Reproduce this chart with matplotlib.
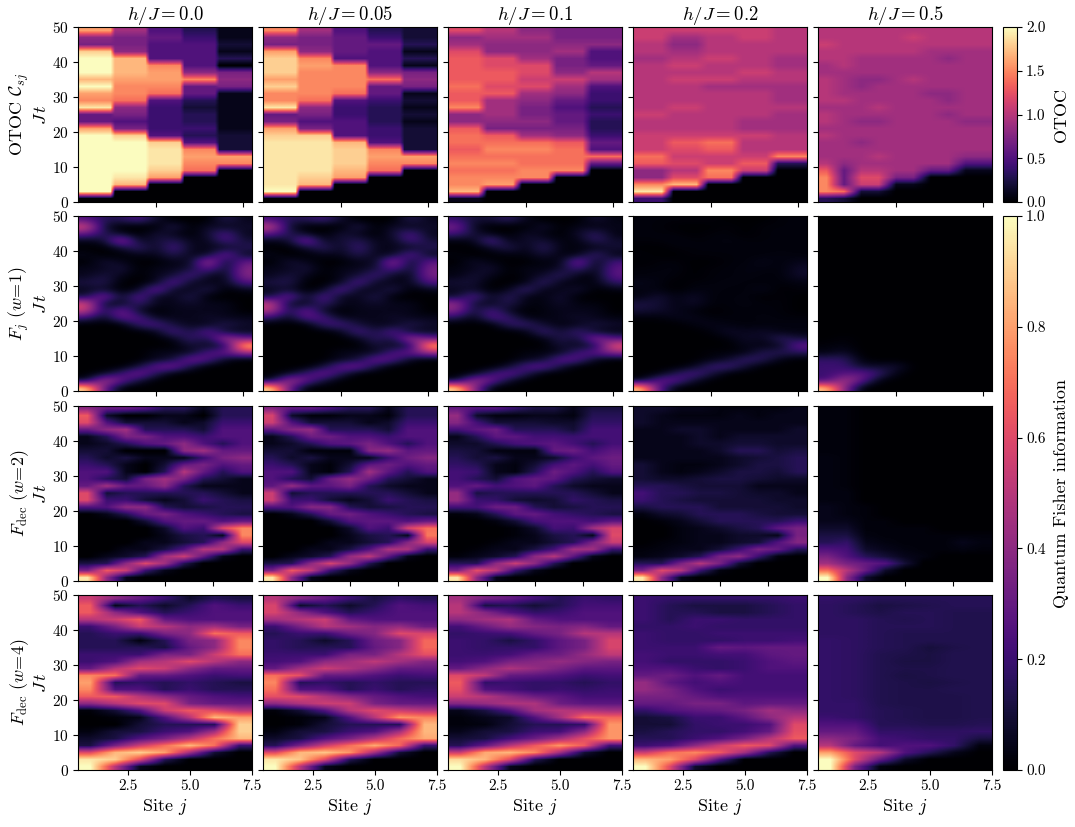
"""OTOC and quantum Fisher information light cones vs field strength."""
import matplotlib

matplotlib.use("Agg")
import matplotlib.pyplot as plt
import numpy as np

plt.rcParams["font.family"] = "cmr10"
plt.rcParams["mathtext.fontset"] = "cm"
plt.rcParams["axes.formatter.use_mathtext"] = True

fields = ["0.0", "0.05", "0.1", "0.2", "0.5"]
row_labels = [
    "OTOC $\\mathcal{C}_{sj}$\n$J\\,t$",
    "$F_j\\ (w\\!=\\!1)$\n$J\\,t$",
    "$F_{\\mathrm{dec}}\\ (w\\!=\\!2)$\n$J\\,t$",
    "$F_{\\mathrm{dec}}\\ (w\\!=\\!4)$\n$J\\,t$",
]

# OTOC in tenths, one list per block of two sites, Jt = 1, 3, ... 49
otoc_00 = [
    [0, 20, 20, 20, 20, 20, 20, 20, 20, 20, 16, 6, 6, 19, 15, 16, 20, 17, 20, 20, 20, 18, 7, 8, 16],
    [0, 0, 17, 19, 20, 20, 20, 20, 20, 18, 7, 5, 7, 8, 14, 15, 15, 16, 17, 17, 17, 8, 7, 7, 9],
    [0, 0, 0, 16, 18, 19, 19, 19, 18, 5, 4, 4, 4, 4, 5, 14, 15, 16, 16, 15, 5, 5, 5, 6, 5],
    [0, 0, 0, 0, 14, 15, 16, 15, 5, 3, 4, 3, 3, 2, 3, 6, 6, 15, 8, 5, 5, 5, 5, 4, 3],
    [0, 0, 0, 0, 0, 15, 16, 2, 2, 2, 1, 1, 1, 1, 1, 1, 7, 8, 7, 0, 3, 1, 2, 1, 1],
]
otoc_05 = [
    [0, 20, 19, 19, 19, 19, 19, 19, 19, 18, 16, 7, 6, 19, 15, 15, 18, 16, 18, 18, 18, 16, 7, 8, 15],
    [0, 0, 17, 18, 19, 19, 19, 19, 19, 18, 7, 5, 7, 8, 14, 15, 15, 15, 15, 16, 15, 8, 7, 7, 9],
    [0, 0, 0, 16, 17, 18, 18, 18, 17, 5, 5, 5, 4, 4, 5, 14, 15, 15, 15, 15, 5, 6, 6, 6, 5],
    [0, 0, 0, 0, 14, 15, 16, 15, 5, 4, 4, 3, 3, 3, 4, 6, 6, 14, 8, 5, 5, 5, 6, 4, 3],
    [0, 0, 0, 0, 0, 15, 16, 2, 2, 2, 2, 1, 2, 1, 2, 1, 7, 8, 7, 1, 3, 1, 3, 2, 2],
]
otoc_10 = [
    [1, 17, 15, 15, 14, 15, 14, 13, 14, 14, 13, 8, 8, 15, 13, 13, 14, 13, 13, 13, 13, 12, 9, 8, 12],
    [0, 0, 16, 15, 14, 15, 14, 15, 14, 13, 7, 8, 9, 9, 9, 13, 12, 13, 13, 12, 12, 8, 8, 9, 10],
    [0, 0, 0, 15, 15, 14, 14, 15, 14, 9, 7, 8, 7, 7, 8, 9, 12, 11, 12, 12, 9, 8, 8, 9, 8],
    [0, 0, 0, 0, 15, 14, 14, 14, 13, 8, 7, 6, 6, 5, 6, 8, 9, 11, 8, 7, 7, 9, 8, 7, 7],
    [0, 0, 0, 0, 0, 6, 14, 5, 6, 4, 3, 3, 4, 3, 4, 4, 5, 9, 10, 6, 5, 5, 8, 7, 7],
]
otoc_20 = [
    [4, 19, 15, 8, 8, 13, 14, 11, 11, 11, 10, 10, 11, 10, 10, 10, 10, 10, 10, 10, 9, 10, 10, 11, 11],
    [0, 0, 17, 12, 10, 12, 11, 12, 13, 11, 10, 10, 10, 11, 10, 10, 10, 11, 10, 11, 10, 9, 8, 9, 11],
    [0, 0, 0, 14, 15, 11, 11, 13, 14, 11, 10, 10, 10, 10, 10, 10, 9, 11, 10, 10, 11, 10, 10, 10, 11],
    [0, 0, 0, 0, 11, 13, 11, 10, 10, 11, 9, 9, 10, 10, 10, 10, 9, 10, 11, 10, 10, 10, 10, 11, 11],
    [0, 0, 0, 0, 0, 3, 15, 10, 10, 10, 9, 9, 9, 10, 9, 9, 9, 10, 10, 9, 9, 10, 10, 10, 10],
]
# h/J = 0.5 varies inside the first block, so it keeps all ten sites (one list per Jt)
otoc_50 = [
    [3, 2, 0, 0, 0, 0, 0, 0, 0, 0],
    [15, 14, 2, 2, 0, 0, 0, 0, 0, 0],
    [15, 6, 11, 11, 1, 1, 0, 0, 0, 0],
    [15, 6, 12, 12, 7, 7, 0, 0, 0, 0],
    [13, 6, 10, 10, 9, 9, 6, 6, 1, 1],
    [10, 8, 9, 9, 9, 9, 9, 9, 5, 5],
    [9, 9, 9, 10, 9, 9, 9, 9, 8, 8],
    [9, 9, 9, 9, 9, 9, 9, 9, 9, 9],
    [9, 9, 8, 9, 9, 9, 9, 9, 9, 9],
    [10, 9, 9, 9, 9, 9, 9, 9, 9, 9],
    [9, 9, 9, 9, 9, 9, 9, 9, 9, 9],
    [10, 9, 8, 8, 9, 9, 9, 9, 8, 8],
    [10, 9, 9, 9, 9, 9, 9, 8, 9, 9],
    [9, 9, 9, 10, 9, 9, 9, 9, 9, 9],
    [10, 10, 9, 9, 9, 9, 9, 8, 9, 9],
    [10, 9, 9, 9, 9, 9, 8, 8, 9, 9],
    [10, 9, 8, 9, 9, 9, 9, 9, 9, 9],
    [10, 9, 8, 8, 9, 10, 9, 9, 9, 9],
    [9, 9, 9, 9, 9, 9, 9, 9, 9, 9],
    [9, 10, 9, 9, 9, 9, 9, 9, 9, 9],
    [10, 10, 9, 9, 9, 9, 9, 8, 9, 9],
    [10, 10, 10, 10, 10, 10, 9, 9, 9, 9],
    [11, 10, 10, 10, 10, 10, 10, 10, 10, 10],
    [10, 10, 10, 10, 10, 11, 10, 10, 10, 10],
    [10, 10, 10, 10, 10, 10, 10, 10, 10, 10],
]

# Fisher information in percent, one list per Jt = 1, 3, ... 49
fj_00 = [
    [95, 30, 0, 0, 0, 0, 0, 0, 0, 0], [5, 50, 30, 10, 0, 0, 0, 0, 0, 0],
    [0, 5, 20, 35, 15, 0, 0, 0, 0, 0], [0, 0, 0, 10, 30, 35, 10, 0, 0, 0],
    [0, 0, 0, 0, 5, 10, 35, 25, 5, 0], [0, 0, 0, 0, 5, 5, 5, 25, 30, 45],
    [0, 0, 0, 0, 0, 0, 10, 5, 10, 90], [0, 0, 0, 0, 0, 5, 20, 10, 50, 30],
    [0, 0, 0, 0, 5, 25, 10, 30, 5, 5], [0, 0, 0, 20, 25, 10, 5, 5, 15, 8],
    [20, 5, 30, 25, 5, 5, 5, 8, 5, 5], [55, 10, 35, 5, 0, 5, 5, 5, 5, 0],
    [60, 5, 5, 20, 5, 5, 8, 5, 5, 0], [10, 40, 5, 30, 5, 5, 15, 0, 0, 0],
    [5, 8, 0, 5, 35, 5, 5, 15, 0, 5], [12, 15, 0, 0, 5, 30, 5, 5, 5, 25],
    [5, 12, 5, 0, 5, 10, 25, 5, 5, 38], [5, 5, 12, 0, 5, 5, 10, 30, 5, 38],
    [0, 10, 5, 0, 0, 5, 5, 50, 5, 30], [5, 0, 0, 5, 5, 15, 5, 5, 35, 5],
    [0, 0, 10, 20, 5, 25, 5, 5, 5, 15], [5, 8, 45, 5, 10, 15, 5, 5, 25, 10],
    [30, 15, 5, 0, 10, 5, 0, 10, 25, 5], [60, 8, 0, 0, 0, 15, 0, 8, 5, 8],
    [25, 15, 15, 25, 8, 0, 0, 0, 15, 5],
]
fj_05 = [
    [95, 30, 0, 0, 0, 0, 0, 0, 0, 0], [5, 48, 30, 10, 0, 0, 0, 0, 0, 0],
    [0, 5, 20, 33, 15, 0, 0, 0, 0, 0], [0, 0, 0, 10, 30, 33, 10, 0, 0, 0],
    [0, 0, 0, 0, 5, 10, 33, 25, 5, 0], [0, 0, 0, 0, 5, 5, 5, 25, 30, 45],
    [0, 0, 0, 0, 0, 0, 10, 5, 10, 85], [0, 0, 0, 0, 0, 5, 18, 10, 48, 30],
    [0, 0, 0, 0, 5, 25, 10, 28, 5, 5], [0, 0, 0, 20, 23, 10, 5, 5, 15, 8],
    [18, 5, 28, 23, 5, 5, 5, 8, 5, 5], [50, 10, 33, 5, 0, 5, 5, 5, 5, 0],
    [55, 5, 5, 20, 5, 5, 8, 5, 5, 0], [10, 35, 5, 28, 5, 5, 15, 0, 0, 0],
    [5, 8, 0, 5, 30, 5, 5, 15, 0, 5], [12, 15, 0, 0, 5, 28, 5, 5, 5, 25],
    [5, 12, 5, 0, 5, 10, 23, 5, 5, 35], [5, 5, 12, 0, 5, 5, 10, 28, 5, 35],
    [0, 10, 5, 0, 0, 5, 5, 45, 5, 28], [5, 0, 0, 5, 5, 15, 5, 5, 30, 5],
    [0, 0, 10, 18, 5, 22, 5, 5, 5, 15], [5, 8, 38, 5, 10, 15, 5, 5, 25, 10],
    [28, 15, 5, 0, 10, 5, 0, 10, 25, 5], [55, 8, 0, 0, 0, 15, 0, 8, 5, 8],
    [22, 15, 15, 22, 8, 0, 0, 0, 15, 5],
]
fj_10 = [
    [95, 40, 0, 0, 0, 0, 0, 0, 0, 0], [5, 45, 32, 8, 0, 0, 0, 0, 0, 0],
    [0, 3, 20, 30, 15, 0, 0, 0, 0, 0], [0, 0, 0, 8, 25, 30, 10, 0, 0, 0],
    [0, 0, 0, 0, 5, 8, 30, 25, 5, 0], [0, 0, 0, 0, 3, 3, 5, 22, 28, 40],
    [0, 0, 0, 0, 0, 0, 10, 5, 10, 65], [0, 0, 0, 0, 0, 3, 15, 8, 42, 25],
    [0, 0, 0, 0, 3, 22, 8, 22, 5, 3], [0, 0, 0, 18, 20, 8, 3, 5, 12, 8],
    [15, 3, 25, 20, 3, 3, 5, 8, 5, 3], [38, 8, 25, 5, 0, 3, 5, 5, 5, 0],
    [42, 8, 5, 15, 3, 3, 8, 3, 3, 0], [8, 28, 5, 18, 3, 3, 10, 0, 0, 0],
    [5, 8, 0, 5, 22, 3, 5, 10, 0, 3], [10, 10, 0, 0, 3, 20, 3, 3, 3, 18],
    [3, 10, 5, 0, 3, 8, 18, 3, 3, 28], [3, 5, 10, 0, 5, 3, 8, 22, 3, 28],
    [0, 8, 3, 0, 0, 3, 3, 38, 3, 22], [3, 0, 0, 3, 3, 10, 3, 3, 22, 3],
    [0, 0, 8, 15, 3, 18, 3, 3, 3, 10], [3, 5, 28, 3, 8, 10, 3, 3, 18, 8],
    [22, 10, 3, 0, 8, 3, 0, 8, 18, 3], [35, 5, 0, 0, 0, 10, 0, 5, 3, 5],
    [18, 10, 10, 18, 5, 0, 0, 0, 10, 3],
]
fj_20 = [
    [90, 25, 0, 0, 0, 0, 0, 0, 0, 0], [3, 30, 28, 8, 0, 0, 0, 0, 0, 0],
    [0, 2, 15, 25, 12, 0, 0, 0, 0, 0], [0, 0, 0, 5, 20, 22, 8, 0, 0, 0],
    [0, 0, 0, 0, 3, 8, 20, 15, 3, 0], [0, 0, 0, 0, 2, 2, 3, 15, 15, 15],
    [0, 0, 0, 0, 0, 0, 5, 3, 5, 30], [0, 0, 0, 0, 0, 2, 8, 5, 18, 10],
    [0, 0, 0, 0, 2, 8, 5, 8, 3, 3], [0, 0, 0, 3, 5, 3, 2, 2, 3, 3],
    [2, 2, 5, 5, 2, 2, 2, 3, 2, 2], [10, 8, 5, 2, 0, 2, 2, 2, 2, 0],
    [12, 10, 3, 8, 2, 2, 3, 2, 2, 0], [3, 10, 3, 8, 2, 2, 3, 0, 2, 0],
    [3, 3, 0, 3, 3, 2, 2, 5, 0, 2], [5, 3, 0, 2, 2, 3, 2, 2, 2, 3],
    [2, 3, 2, 0, 2, 2, 3, 2, 2, 8], [2, 2, 3, 0, 2, 2, 3, 3, 2, 8],
    [0, 2, 2, 0, 0, 2, 2, 5, 2, 5], [2, 0, 0, 2, 2, 2, 2, 2, 3, 2],
    [0, 0, 2, 2, 2, 2, 2, 2, 2, 2], [2, 2, 3, 2, 2, 3, 2, 2, 2, 2],
    [2, 2, 2, 0, 2, 2, 0, 2, 2, 2], [2, 2, 0, 0, 0, 2, 0, 2, 2, 2],
    [2, 2, 2, 2, 2, 0, 0, 0, 2, 2],
]
fj_50 = [
    [90, 40, 0, 0, 0, 0, 0, 0, 0, 0], [20, 50, 30, 2, 0, 0, 0, 0, 0, 0],
    [20, 25, 30, 20, 3, 0, 0, 0, 0, 0], [20, 20, 8, 8, 10, 0, 0, 0, 0, 0],
    [18, 18, 2, 0, 0, 0, 0, 0, 0, 0], [3, 8, 0, 0, 0, 0, 0, 0, 0, 0],
    [2, 3, 0, 0, 0, 0, 0, 0, 0, 0], [0, 2, 0, 0, 0, 0, 0, 0, 0, 0],
    [0, 0, 0, 0, 0, 0, 0, 0, 0, 0], [0, 0, 0, 0, 0, 0, 0, 0, 0, 0],
    [0, 0, 0, 0, 0, 0, 0, 0, 0, 0], [0, 0, 0, 0, 0, 0, 0, 0, 0, 0],
    [0, 0, 0, 0, 0, 0, 0, 0, 0, 0], [0, 0, 0, 0, 0, 0, 0, 0, 0, 0],
    [0, 0, 0, 0, 0, 0, 0, 0, 0, 0], [0, 0, 0, 0, 0, 0, 0, 0, 0, 0],
    [0, 0, 0, 0, 0, 0, 0, 0, 0, 0], [0, 0, 0, 0, 0, 0, 0, 0, 0, 0],
    [0, 0, 0, 0, 0, 0, 0, 0, 0, 0], [0, 0, 0, 0, 0, 0, 0, 0, 0, 0],
    [0, 0, 0, 0, 0, 0, 0, 0, 0, 0], [0, 0, 0, 0, 0, 0, 0, 0, 0, 0],
    [0, 0, 0, 0, 0, 0, 0, 0, 0, 0], [0, 0, 0, 0, 0, 0, 0, 0, 0, 0],
    [0, 0, 0, 0, 0, 0, 0, 0, 0, 0],
]

w2_00 = [
    [95, 40, 5, 0, 0, 0, 0, 0, 0], [35, 65, 55, 20, 5, 0, 0, 0, 0],
    [12, 15, 40, 60, 45, 15, 0, 0, 0], [0, 5, 8, 15, 45, 55, 30, 5, 0],
    [0, 0, 5, 5, 12, 25, 50, 50, 20], [0, 0, 0, 5, 5, 10, 15, 40, 60],
    [0, 0, 0, 0, 5, 12, 15, 5, 75], [0, 0, 0, 0, 8, 25, 20, 60, 75],
    [0, 0, 0, 10, 25, 30, 30, 25, 30], [0, 5, 15, 30, 35, 25, 20, 15, 12],
    [25, 25, 40, 40, 15, 10, 12, 15, 15], [60, 20, 20, 10, 5, 10, 20, 15, 12],
    [60, 10, 15, 15, 15, 15, 15, 10, 5], [30, 45, 30, 30, 40, 15, 5, 5, 5],
    [25, 15, 10, 35, 45, 35, 15, 10, 5], [25, 25, 5, 0, 15, 50, 30, 15, 25],
    [20, 15, 5, 0, 10, 30, 35, 25, 30], [15, 8, 12, 5, 5, 5, 20, 35, 40],
    [10, 10, 0, 0, 0, 40, 45, 30, 30], [5, 8, 15, 25, 30, 40, 25, 15, 25],
    [5, 15, 35, 35, 25, 25, 20, 25, 25], [30, 40, 45, 15, 15, 15, 10, 25, 25],
    [60, 25, 10, 10, 10, 5, 8, 20, 20], [65, 8, 0, 0, 5, 5, 0, 15, 15],
    [40, 30, 30, 25, 15, 15, 5, 15, 15],
]
w2_05 = [
    [95, 40, 5, 0, 0, 0, 0, 0, 0], [35, 65, 52, 20, 5, 0, 0, 0, 0],
    [12, 15, 40, 58, 42, 15, 0, 0, 0], [0, 5, 8, 15, 42, 52, 28, 5, 0],
    [0, 0, 5, 5, 12, 25, 48, 48, 20], [0, 0, 0, 5, 5, 10, 15, 38, 58],
    [0, 0, 0, 0, 5, 12, 15, 5, 72], [0, 0, 0, 0, 8, 25, 20, 58, 70],
    [0, 0, 0, 10, 25, 28, 28, 25, 30], [0, 5, 15, 30, 33, 25, 20, 15, 12],
    [25, 25, 38, 38, 15, 10, 12, 15, 15], [55, 20, 20, 10, 5, 10, 20, 15, 12],
    [55, 10, 15, 15, 15, 15, 15, 10, 5], [28, 42, 28, 28, 35, 15, 8, 5, 5],
    [25, 15, 10, 32, 42, 32, 15, 10, 5], [25, 25, 5, 2, 15, 45, 28, 15, 25],
    [20, 15, 5, 2, 10, 28, 32, 25, 30], [15, 8, 12, 5, 5, 5, 20, 32, 38],
    [10, 10, 2, 2, 2, 38, 42, 28, 30], [5, 8, 15, 25, 28, 35, 25, 15, 25],
    [5, 15, 32, 32, 25, 25, 20, 25, 25], [28, 38, 42, 15, 15, 15, 10, 25, 25],
    [55, 25, 10, 10, 10, 5, 8, 20, 20], [58, 8, 2, 2, 5, 5, 2, 15, 15],
    [38, 28, 28, 22, 15, 15, 5, 15, 15],
]
w2_10 = [
    [95, 40, 5, 0, 0, 0, 0, 0, 0], [35, 62, 50, 20, 5, 0, 0, 0, 0],
    [15, 15, 40, 55, 40, 15, 0, 0, 0], [2, 5, 8, 15, 40, 50, 28, 5, 0],
    [0, 2, 5, 5, 12, 22, 45, 45, 20], [0, 0, 2, 5, 5, 10, 15, 35, 55],
    [0, 0, 0, 2, 5, 12, 15, 5, 60], [0, 0, 0, 2, 8, 22, 20, 45, 58],
    [0, 0, 3, 10, 22, 25, 25, 22, 28], [2, 5, 15, 28, 30, 22, 18, 15, 12],
    [22, 22, 32, 32, 15, 10, 12, 15, 15], [42, 20, 18, 10, 8, 10, 18, 15, 12],
    [42, 12, 15, 15, 15, 15, 15, 10, 5], [25, 30, 22, 25, 28, 15, 8, 5, 5],
    [22, 15, 10, 25, 30, 28, 15, 10, 8], [22, 20, 5, 3, 15, 32, 25, 15, 25],
    [18, 15, 5, 3, 10, 22, 28, 22, 30], [15, 10, 12, 5, 5, 8, 20, 28, 32],
    [12, 10, 3, 3, 3, 30, 32, 22, 28], [8, 8, 15, 22, 25, 28, 22, 15, 22],
    [5, 15, 28, 28, 22, 22, 20, 22, 22], [22, 28, 32, 15, 15, 15, 10, 22, 22],
    [38, 22, 10, 10, 10, 8, 8, 18, 18], [42, 8, 3, 3, 5, 5, 3, 15, 15],
    [30, 25, 25, 18, 12, 12, 5, 12, 12],
]
w2_20 = [
    [95, 40, 5, 0, 0, 0, 0, 0, 0], [35, 60, 50, 20, 3, 0, 0, 0, 0],
    [15, 15, 35, 50, 35, 10, 0, 0, 0], [3, 5, 8, 15, 35, 40, 20, 3, 0],
    [2, 3, 5, 5, 10, 20, 35, 30, 15], [0, 2, 3, 5, 5, 8, 10, 25, 38],
    [0, 0, 3, 5, 5, 8, 8, 5, 35], [0, 0, 3, 5, 8, 12, 15, 28, 35],
    [0, 2, 5, 10, 15, 15, 15, 15, 20], [3, 8, 10, 15, 15, 15, 12, 10, 10],
    [12, 15, 15, 15, 10, 10, 10, 10, 8], [20, 15, 12, 10, 10, 10, 10, 8, 8],
    [22, 15, 15, 12, 12, 10, 8, 8, 5], [15, 15, 12, 10, 10, 10, 5, 5, 5],
    [10, 8, 8, 10, 12, 12, 10, 8, 8], [10, 5, 3, 5, 8, 12, 12, 10, 15],
    [10, 5, 3, 3, 5, 8, 12, 12, 15], [5, 5, 5, 5, 5, 8, 10, 12, 15],
    [5, 5, 5, 5, 8, 15, 15, 10, 12], [5, 5, 5, 8, 8, 10, 10, 8, 8],
    [5, 5, 5, 8, 5, 8, 8, 8, 8], [5, 5, 8, 8, 5, 5, 5, 5, 8],
    [8, 5, 5, 5, 5, 5, 5, 5, 5], [8, 5, 3, 3, 3, 5, 3, 5, 5],
    [8, 8, 5, 5, 3, 3, 3, 3, 5],
]
w2_50 = [
    [100, 40, 8, 0, 0, 0, 0, 0, 0], [70, 50, 30, 8, 0, 0, 0, 0, 0],
    [45, 35, 30, 25, 10, 0, 0, 0, 0], [35, 25, 15, 10, 5, 3, 0, 0, 0],
    [25, 22, 8, 5, 3, 2, 2, 3, 2], [15, 18, 5, 3, 2, 2, 2, 5, 3],
    [12, 12, 3, 2, 2, 2, 2, 2, 2], [8, 8, 2, 2, 2, 2, 0, 0, 0],
    [5, 5, 2, 2, 0, 0, 0, 0, 0], [5, 3, 2, 0, 0, 0, 0, 0, 0],
    [5, 3, 2, 0, 0, 0, 0, 0, 0], [3, 3, 0, 0, 0, 0, 0, 0, 0],
    [3, 3, 0, 0, 0, 0, 0, 0, 0], [3, 2, 0, 0, 0, 0, 0, 0, 0],
    [3, 2, 0, 0, 0, 0, 0, 0, 0], [3, 2, 0, 0, 0, 0, 0, 0, 0],
    [3, 2, 0, 0, 0, 0, 0, 0, 0], [3, 2, 0, 0, 0, 0, 0, 0, 0],
    [2, 2, 0, 0, 0, 0, 0, 0, 0], [2, 2, 0, 0, 0, 0, 0, 0, 0],
    [2, 2, 0, 0, 0, 0, 0, 0, 0], [2, 2, 0, 0, 0, 0, 0, 0, 0],
    [2, 2, 0, 0, 0, 0, 0, 0, 0], [2, 2, 0, 0, 0, 0, 0, 0, 0],
    [2, 2, 0, 0, 0, 0, 0, 0, 0],
]

w4_00 = [
    [100, 50, 5, 0, 0, 0, 0], [95, 90, 60, 15, 0, 0, 0], [60, 85, 90, 80, 45, 10, 0],
    [12, 35, 55, 70, 85, 70, 20], [8, 12, 25, 35, 50, 70, 85], [3, 10, 12, 20, 25, 45, 90],
    [0, 0, 10, 15, 15, 15, 90], [0, 2, 5, 25, 50, 85, 80], [2, 10, 25, 55, 65, 60, 50],
    [40, 50, 60, 60, 35, 30, 30], [65, 65, 50, 40, 30, 25, 22], [75, 25, 25, 15, 20, 15, 15],
    [80, 15, 18, 15, 18, 15, 12], [75, 70, 30, 30, 25, 20, 22], [30, 50, 60, 55, 40, 30, 30],
    [20, 25, 45, 50, 60, 50, 40], [20, 20, 20, 35, 35, 55, 70], [15, 15, 15, 12, 30, 40, 75],
    [15, 15, 3, 15, 35, 40, 75], [15, 20, 20, 35, 40, 70, 65], [20, 35, 55, 50, 40, 45, 35],
    [50, 55, 65, 30, 25, 25, 25], [65, 40, 25, 15, 20, 25, 25], [65, 5, 15, 8, 15, 25, 20],
    [55, 40, 30, 20, 8, 15, 12],
]
w4_05 = [
    [100, 50, 5, 0, 0, 0, 0], [95, 88, 60, 15, 0, 0, 0], [60, 85, 88, 78, 45, 10, 0],
    [15, 35, 55, 70, 82, 68, 20], [8, 12, 25, 35, 50, 68, 82], [3, 10, 12, 20, 25, 45, 85],
    [0, 2, 10, 15, 15, 15, 85], [0, 2, 5, 25, 50, 78, 75], [2, 10, 25, 50, 60, 55, 50],
    [40, 48, 55, 55, 35, 30, 30], [62, 60, 48, 38, 30, 25, 22], [70, 25, 25, 15, 20, 15, 18],
    [75, 15, 18, 15, 18, 15, 15], [70, 62, 30, 30, 25, 20, 22], [30, 45, 55, 48, 40, 30, 30],
    [22, 25, 40, 45, 52, 45, 38], [20, 20, 20, 35, 35, 50, 62], [18, 15, 15, 15, 30, 38, 68],
    [18, 15, 8, 15, 32, 38, 68], [15, 20, 20, 32, 38, 60, 58], [20, 35, 50, 45, 38, 42, 32],
    [45, 50, 55, 30, 25, 25, 25], [58, 40, 25, 15, 20, 25, 25], [58, 8, 15, 8, 15, 25, 22],
    [50, 38, 30, 20, 12, 18, 15],
]
w4_10 = [
    [100, 50, 5, 0, 0, 0, 0], [92, 85, 60, 15, 0, 0, 0], [55, 82, 85, 75, 45, 10, 0],
    [15, 30, 50, 65, 78, 65, 22], [10, 12, 22, 32, 45, 62, 78], [5, 10, 12, 20, 22, 40, 78],
    [2, 3, 10, 15, 15, 18, 78], [2, 5, 8, 25, 45, 70, 68], [5, 12, 25, 45, 50, 48, 45],
    [38, 42, 48, 48, 32, 28, 28], [55, 50, 40, 32, 28, 22, 22], [62, 25, 22, 18, 20, 18, 20],
    [65, 18, 20, 18, 18, 15, 18], [60, 52, 30, 28, 25, 20, 22], [30, 40, 48, 42, 35, 28, 28],
    [22, 25, 35, 38, 42, 38, 35], [20, 20, 22, 30, 32, 42, 52], [20, 18, 18, 18, 28, 35, 58],
    [20, 18, 12, 18, 28, 35, 58], [18, 20, 22, 30, 35, 50, 50], [22, 32, 42, 38, 35, 38, 30],
    [40, 45, 48, 30, 25, 25, 25], [50, 38, 25, 18, 20, 25, 25], [50, 12, 15, 10, 15, 22, 22],
    [45, 35, 30, 22, 15, 20, 18],
]
w4_20 = [
    [100, 60, 8, 0, 0, 0, 0], [85, 80, 60, 25, 0, 0, 0], [55, 70, 75, 65, 45, 15, 0],
    [20, 25, 40, 55, 65, 60, 25], [15, 15, 20, 25, 35, 50, 65], [12, 15, 18, 18, 22, 30, 62],
    [10, 10, 18, 20, 20, 25, 60], [10, 12, 20, 20, 28, 40, 50], [18, 25, 28, 30, 35, 45, 40],
    [30, 30, 35, 35, 28, 30, 30], [35, 35, 30, 25, 25, 25, 25], [42, 35, 25, 20, 22, 22, 22],
    [42, 28, 22, 25, 22, 22, 22], [30, 32, 25, 30, 22, 22, 22], [25, 25, 20, 18, 20, 25, 25],
    [22, 18, 18, 18, 20, 25, 28], [22, 20, 20, 22, 22, 28, 30], [20, 20, 20, 30, 28, 30, 30],
    [20, 18, 18, 18, 20, 20, 22], [20, 18, 18, 20, 20, 20, 20], [18, 18, 20, 18, 18, 18, 18],
    [20, 15, 20, 20, 18, 18, 18], [20, 15, 15, 12, 12, 15, 18], [20, 15, 12, 12, 12, 15, 18],
    [20, 18, 18, 18, 18, 18, 20],
]
w4_50 = [
    [100, 35, 3, 0, 0, 0, 0], [100, 60, 30, 8, 0, 0, 0], [80, 60, 50, 25, 15, 5, 0],
    [50, 30, 22, 25, 25, 18, 3], [40, 35, 22, 20, 18, 18, 12], [30, 30, 18, 18, 17, 17, 18],
    [25, 25, 15, 15, 14, 14, 15], [20, 18, 15, 14, 13, 13, 14], [18, 18, 15, 14, 13, 13, 14],
    [18, 18, 14, 13, 13, 13, 14], [18, 17, 14, 13, 13, 13, 14], [18, 17, 14, 13, 13, 14, 14],
    [18, 17, 14, 13, 12, 13, 14], [18, 17, 14, 12, 13, 14, 14], [18, 17, 14, 13, 13, 14, 14],
    [18, 17, 14, 12, 12, 14, 14], [18, 17, 14, 13, 12, 14, 14], [18, 17, 15, 14, 11, 13, 14],
    [18, 17, 15, 14, 14, 14, 14], [17, 17, 15, 14, 14, 14, 14], [17, 17, 15, 15, 15, 14, 14],
    [17, 17, 15, 14, 15, 14, 14], [17, 15, 13, 15, 15, 14, 14], [17, 15, 12, 13, 14, 15, 15],
    [18, 17, 15, 15, 15, 15, 15],
]

otoc_panels = [otoc_00, otoc_05, otoc_10, otoc_20]
otoc_widen = [8, 8, 4, 3]
qfi_rows = [
    [fj_00, fj_05, fj_10, fj_20, fj_50],
    [w2_00, w2_05, w2_10, w2_20, w2_50],
    [w4_00, w4_05, w4_10, w4_20, w4_50],
]
x_max = [10.5, 10.5, 9.5, 7.5]
x_ticks = [[5, 10], [5, 10], [2.5, 5, 7.5], [2.5, 5, 7.5]]

W, H = 1075, 827
col_left = [78, 263, 448, 633, 818]
row_top = [27, 216, 406, 595]
PW, PH = 174, 175


def px_axes(fig, left, top, w, h):
    return fig.add_axes([left / W, 1 - (top + h) / H, w / W, h / H])


fig = plt.figure(figsize=(W / 100, H / 100), dpi=100)
im_top = im_low = None
for r in range(4):
    for c in range(5):
        ax = px_axes(fig, col_left[c], row_top[r], PW, PH)
        if r == 0:
            # blocks of two sites have sharp edges, so widen them before smoothing
            if c < 4:
                img = np.repeat(np.array(otoc_panels[c]).T / 10, otoc_widen[c], axis=1)
            else:
                img = np.array(otoc_50) / 10
            im_top = ax.imshow(img, origin="lower", aspect="auto", cmap="magma", vmin=0, vmax=2,
                               extent=[0.5, 10.5, 0, 50], interpolation="bilinear")
        else:
            img = np.array(qfi_rows[r - 1][c]) / 100
            im_low = ax.imshow(img, origin="lower", aspect="auto", cmap="magma", vmin=0, vmax=1,
                               extent=[0.5, x_max[r], 0, 50],
                               interpolation="bicubic" if r == 1 else "bilinear")
        ax.set_xlim(0.5, x_max[r])
        ax.set_ylim(0, 50)
        ax.set_xticks(x_ticks[r])
        ax.set_yticks([0, 10, 20, 30, 40, 50])
        ax.tick_params(labelsize=11, length=3.5, width=0.8, pad=3)
        if r == 3:
            ax.set_xticklabels(["2.5", "5.0", "7.5"])
            ax.set_xlabel("Site $j$", fontsize=13, labelpad=3)
        else:
            ax.set_xticklabels([])
        if c == 0:
            ax.set_ylabel(row_labels[r], fontsize=13, labelpad=2)
        else:
            ax.set_yticklabels([])
        if r == 0:
            ax.set_title(f"$h/J = {fields[c]}$", fontsize=13.5, pad=5)

cax = px_axes(fig, 1003, 27, 14, 175)
cb = fig.colorbar(im_top, cax=cax, ticks=[0, 0.5, 1, 1.5, 2])
cb.ax.set_yticklabels(["0.0", "0.5", "1.0", "1.5", "2.0"])
cb.ax.tick_params(labelsize=11, length=3.5, width=0.8, pad=3)
cb.set_label("OTOC", fontsize=13, labelpad=6)

cax = px_axes(fig, 1003, 216, 14, 554)
cb = fig.colorbar(im_low, cax=cax, ticks=[0, 0.2, 0.4, 0.6, 0.8, 1])
cb.ax.set_yticklabels(["0.0", "0.2", "0.4", "0.6", "0.8", "1.0"])
cb.ax.tick_params(labelsize=11, length=3.5, width=0.8, pad=3)
cb.set_label("Quantum Fisher information", fontsize=13, labelpad=6)

fig.savefig("out.png", dpi=100)
plt.close(fig)
